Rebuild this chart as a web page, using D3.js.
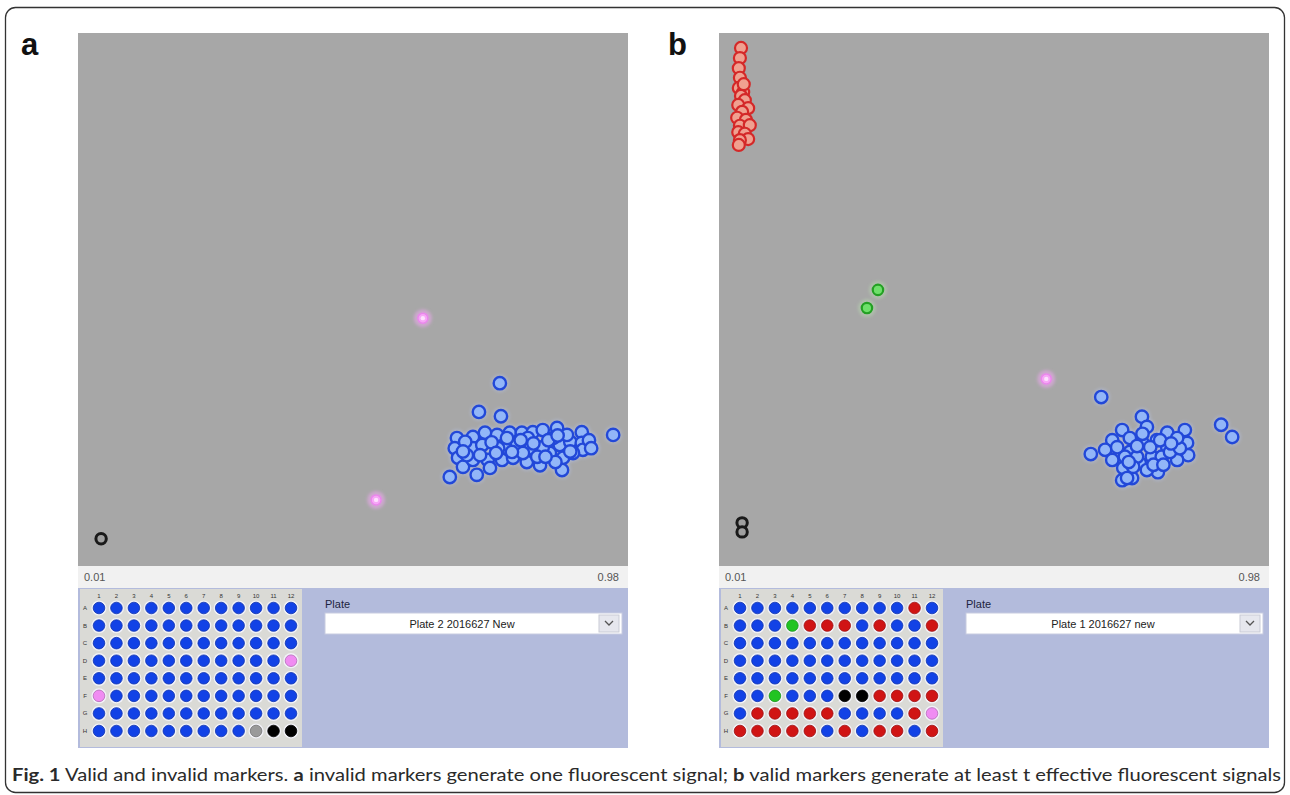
<!DOCTYPE html>
<html>
<head>
<meta charset="utf-8">
<script src="https://cdn.jsdelivr.net/npm/d3@7"></script>
<style>
  body { margin: 0; background: #fff; }
  svg { display: block; }
</style>
</head>
<body>
<div id="fig"></div>
<script>
// ---- data (x / y as fraction of the plot) ----
const panelKeys = ["a", "b"];
const plateNames = ["Plate 2 2016627 New", "Plate 1 2016627 new"];
const axisTicks = [0.01, 0.98];
const plateRows = ["A", "B", "C", "D", "E", "F", "G", "H"];
const plateCols = [1, 2, 3, 4, 5, 6, 7, 8, 9, 10, 11, 12];

// well calls, one string per row: B blue, R red, G green, K black, P pink, N grey
const wellsA = [
  "BBBBBBBBBBBB",
  "BBBBBBBBBBBB",
  "BBBBBBBBBBBB",
  "BBBBBBBBBBBP",
  "BBBBBBBBBBBB",
  "PBBBBBBBBBBB",
  "BBBBBBBBBBBB",
  "BBBBBBBBBNKK"
];
const wellsB = [
  "BBBBBBBBBBRB",
  "BBBGRRRBRBBR",
  "BBBBBBBBBBBB",
  "BBBBBBBBBBBB",
  "BBBBBBBBBBBB",
  "BBGBBBKKRRRR",
  "BRRRRRBBBBRP",
  "RRRRRBRBRRBR"
];

// panel a scatter
const blackA = [[0.042, 0.051]];
const pinkA = [[0.627, 0.465], [0.542, 0.124]];
const blueA = [
  [0.767, 0.343], [0.729, 0.289], [0.769, 0.281], [0.973, 0.246], [0.676, 0.167],
  [0.689, 0.240], [0.685, 0.221], [0.691, 0.203], [0.700, 0.186], [0.725, 0.171],
  [0.718, 0.242], [0.740, 0.250], [0.762, 0.246], [0.785, 0.250], [0.807, 0.250],
  [0.827, 0.251], [0.845, 0.255], [0.871, 0.259], [0.916, 0.251], [0.718, 0.221],
  [0.718, 0.199], [0.745, 0.199], [0.749, 0.184], [0.771, 0.199], [0.791, 0.203],
  [0.816, 0.195], [0.840, 0.189], [0.858, 0.212], [0.876, 0.227], [0.895, 0.233],
  [0.916, 0.231], [0.918, 0.218], [0.900, 0.212], [0.882, 0.203], [0.880, 0.180],
  [0.776, 0.223], [0.798, 0.227], [0.822, 0.221], [0.845, 0.223], [0.809, 0.212],
  [0.835, 0.205], [0.789, 0.214], [0.764, 0.221], [0.735, 0.227], [0.731, 0.208],
  [0.704, 0.233], [0.707, 0.208], [0.864, 0.240], [0.889, 0.246], [0.929, 0.236],
  [0.933, 0.221], [0.818, 0.240], [0.855, 0.236], [0.752, 0.232], [0.868, 0.195],
  [0.805, 0.236], [0.780, 0.240], [0.850, 0.205], [0.895, 0.215], [0.760, 0.212],
  [0.700, 0.215], [0.828, 0.230], [0.872, 0.245]
];

// panel b scatter
const redB = [
  [0.040, 0.972], [0.038, 0.953], [0.036, 0.934], [0.038, 0.916], [0.036, 0.897],
  [0.044, 0.889], [0.040, 0.882], [0.047, 0.874], [0.035, 0.865], [0.053, 0.859],
  [0.042, 0.852], [0.033, 0.841], [0.049, 0.837], [0.038, 0.826], [0.056, 0.827],
  [0.035, 0.814], [0.047, 0.811], [0.053, 0.801], [0.038, 0.799], [0.036, 0.790],
  [0.045, 0.904]
];
const greenB = [[0.289, 0.518], [0.269, 0.484]];
const pinkB = [[0.595, 0.351]];
const blackB = [[0.042, 0.081], [0.042, 0.064]];
const blueB = [
  [0.695, 0.317], [0.676, 0.210], [0.913, 0.265], [0.933, 0.242],
  [0.769, 0.280], [0.778, 0.261], [0.733, 0.255], [0.715, 0.236], [0.702, 0.218],
  [0.715, 0.199], [0.735, 0.184], [0.733, 0.161], [0.751, 0.165], [0.798, 0.176],
  [0.815, 0.250], [0.847, 0.255], [0.851, 0.231], [0.853, 0.208], [0.833, 0.199],
  [0.815, 0.223], [0.796, 0.236], [0.769, 0.233], [0.747, 0.214], [0.765, 0.193],
  [0.787, 0.205], [0.805, 0.205], [0.820, 0.214], [0.784, 0.223], [0.760, 0.205],
  [0.838, 0.221], [0.738, 0.205], [0.778, 0.180], [0.753, 0.186], [0.724, 0.223],
  [0.747, 0.240], [0.833, 0.240], [0.742, 0.165], [0.802, 0.236], [0.790, 0.190],
  [0.822, 0.230], [0.760, 0.225], [0.770, 0.248], [0.745, 0.195], [0.808, 0.190]
];

const scatterA = [
  { pts: blackA, kind: "black" }, { pts: pinkA, kind: "pink" }, { pts: blueA, kind: "blue" }
];
const scatterB = [
  { pts: redB, kind: "red" }, { pts: greenB, kind: "green" }, { pts: pinkB, kind: "pink" },
  { pts: blackB, kind: "black" }, { pts: blueB, kind: "blue" }
];

// ---- layout ----
const W = 1290, H = 795;
const panelLeft = [78, 719];
const plotW = 550, plotTop = 33, plotBottom = 566, stripBottom = 588, lavBottom = 748;

const wellColor = { B: "#1242e6", R: "#d01414", G: "#22c422", K: "#000000", P: "#f08cf2", N: "#9a9a9a" };

const svg = d3.select("#fig").append("svg").attr("width", W).attr("height", H);

const defs = svg.append("defs");
const blur = defs.append("filter").attr("id", "soft").attr("x", "-1").attr("y", "-1").attr("width", "3").attr("height", "3");
blur.append("feGaussianBlur").attr("stdDeviation", 1.8);

// outer frame
svg.append("rect")
  .attr("x", 5.5).attr("y", 7.5).attr("width", 1279).attr("height", 785)
  .attr("rx", 10).attr("fill", "#fff").attr("stroke", "#333").attr("stroke-width", 1.3);

function drawPanel(i, scatter, wells) {
  const left = panelLeft[i];
  const g = svg.append("g");

  const x = d3.scaleLinear().domain([0, 1]).range([left, left + plotW]);
  const y = d3.scaleLinear().domain([0, 1]).range([plotBottom, plotTop]);

  // plot area
  g.append("rect").attr("x", left).attr("y", plotTop)
    .attr("width", plotW).attr("height", plotBottom - plotTop).attr("fill", "#a7a7a7");
  // axis strip
  g.append("rect").attr("x", left).attr("y", plotBottom)
    .attr("width", plotW).attr("height", stripBottom - plotBottom).attr("fill", "#f1f1f1");

  const xTick = d3.scaleLinear().domain(axisTicks).range([left + 6, left + plotW - 9]);
  g.selectAll(".tk").data(axisTicks).join("text")
    .attr("x", d => xTick(d)).attr("y", 581)
    .attr("text-anchor", (d, j) => (j === 0 ? "start" : "end"))
    .attr("font-family", "Liberation Sans, Arial, sans-serif").attr("font-size", 11)
    .attr("fill", "#555").text(d => d.toFixed(2));

  // scatter marks: soft halo first, then the rings
  scatter.forEach(s => {
    const sg = g.append("g");
    if (s.kind === "blue") {
      sg.selectAll(".glow").data(s.pts).join("circle")
        .attr("cx", p => x(p[0])).attr("cy", p => y(p[1])).attr("r", 9)
        .attr("fill", "#b6c2e8").attr("opacity", 0.4).attr("filter", "url(#soft)");
    }
    s.pts.forEach(p => {
      const cx = x(p[0]), cy = y(p[1]);
      if (s.kind === "blue") {
        sg.append("circle").attr("cx", cx).attr("cy", cy).attr("r", 6.2)
          .attr("fill", "#92b6f8").attr("stroke", "#2248d8").attr("stroke-width", 2.4);
      } else if (s.kind === "red") {
        sg.append("circle").attr("cx", cx).attr("cy", cy).attr("r", 6)
          .attr("fill", "#f0a090").attr("stroke", "#d42828").attr("stroke-width", 2.2);
      } else if (s.kind === "green") {
        sg.append("circle").attr("cx", cx).attr("cy", cy).attr("r", 9)
          .attr("fill", "#b8d8b0").attr("opacity", 0.5).attr("filter", "url(#soft)");
        sg.append("circle").attr("cx", cx).attr("cy", cy).attr("r", 5.2)
          .attr("fill", "#6ee06a").attr("stroke", "#23a023").attr("stroke-width", 2.2);
      } else if (s.kind === "pink") {
        sg.append("circle").attr("cx", cx).attr("cy", cy).attr("r", 9)
          .attr("fill", "#e8a8ea").attr("opacity", 0.6).attr("filter", "url(#soft)");
        sg.append("circle").attr("cx", cx).attr("cy", cy).attr("r", 5)
          .attr("fill", "#f6a6f6").attr("stroke", "#ea86ec").attr("stroke-width", 1.5);
        sg.append("circle").attr("cx", cx).attr("cy", cy).attr("r", 2.2)
          .attr("fill", "#fde0fd");
      } else if (s.kind === "black") {
        sg.append("circle").attr("cx", cx).attr("cy", cy).attr("r", 5.2)
          .attr("fill", "#a0a0a0").attr("stroke", "#1a1a1a").attr("stroke-width", 3);
      }
    });
  });

  // plate panel (lavender)
  g.append("rect").attr("x", left).attr("y", stripBottom)
    .attr("width", plotW).attr("height", lavBottom - stripBottom).attr("fill", "#b3bbdc");

  const plateX0 = left + 2, plateX1 = left + 224, plateY0 = 589, plateY1 = 747;
  g.append("rect").attr("x", plateX0).attr("y", plateY0)
    .attr("width", plateX1 - plateX0).attr("height", plateY1 - plateY0).attr("fill", "#dadad6");

  const cx = d3.scalePoint().domain(plateCols).range([left + 21, left + 213]);
  const cy = d3.scalePoint().domain(plateRows).range([608, 731]);

  g.selectAll(".cl").data(plateCols).join("text")
    .attr("x", d => cx(d)).attr("y", 598).attr("text-anchor", "middle")
    .attr("font-family", "Liberation Sans, Arial, sans-serif").attr("font-size", 6)
    .attr("fill", "#333").text(d => d);
  g.selectAll(".rl").data(plateRows).join("text")
    .attr("x", left + 7).attr("y", d => cy(d) + 2).attr("text-anchor", "middle")
    .attr("font-family", "Liberation Sans, Arial, sans-serif").attr("font-size", 6)
    .attr("fill", "#333").text(d => d);

  const wellData = [];
  wells.forEach((row, r) => {
    row.split("").forEach((c, k) => wellData.push({ row: plateRows[r], col: plateCols[k], c }));
  });
  g.selectAll(".halo").data(wellData).join("circle")
    .attr("cx", d => cx(d.col)).attr("cy", d => cy(d.row)).attr("r", 7.6)
    .attr("fill", "#f2f2f8");
  g.selectAll(".well").data(wellData).join("circle")
    .attr("cx", d => cx(d.col)).attr("cy", d => cy(d.row)).attr("r", 5.8)
    .attr("fill", d => wellColor[d.c])
    .attr("stroke", d => d3.color(wellColor[d.c]).darker(0.8))
    .attr("stroke-width", 0.8);

  // plate selector
  const bx = left + 247;
  g.append("text").attr("x", bx).attr("y", 608)
    .attr("font-family", "Liberation Sans, Arial, sans-serif").attr("font-size", 11)
    .attr("fill", "#1c2440").text("Plate");
  g.append("rect").attr("x", bx).attr("y", 613).attr("width", 297).attr("height", 21)
    .attr("fill", "#fff").attr("stroke", "#c8cce0");
  g.append("rect").attr("x", bx + 274).attr("y", 615).attr("width", 20).attr("height", 17)
    .attr("fill", "#e6e7ee").attr("stroke", "#c9cbd6");
  g.append("path")
    .attr("d", `M${bx + 280},${621} L${bx + 284},${625} L${bx + 288},${621}`)
    .attr("fill", "none").attr("stroke", "#555").attr("stroke-width", 1.3);
  g.append("text").attr("x", bx + 137).attr("y", 628).attr("text-anchor", "middle")
    .attr("font-family", "Liberation Sans, Arial, sans-serif").attr("font-size", 11)
    .attr("fill", "#222").text(plateNames[i]);

  // panel letter
  svg.append("text").attr("x", i === 0 ? 21 : 668).attr("y", 55)
    .attr("font-family", "Liberation Sans, Arial, sans-serif").attr("font-weight", "bold")
    .attr("font-size", 31).attr("fill", "#111").text(panelKeys[i]);
}

drawPanel(0, scatterA, wellsA);
drawPanel(1, scatterB, wellsB);

// caption
const cap = svg.append("text").attr("x", 12).attr("y", 781)
  .attr("font-family", "Lato, Noto Sans, sans-serif").attr("font-size", 16.5).attr("fill", "#2a2a2a");
cap.append("tspan").attr("font-weight", "bold").text("Fig. 1");
cap.append("tspan").text(" Valid and invalid markers. ");
cap.append("tspan").attr("font-weight", "bold").text("a");
cap.append("tspan").text(" invalid markers generate one fluorescent signal; ");
cap.append("tspan").attr("font-weight", "bold").text("b");
cap.append("tspan").text(" valid markers generate at least t effective fluorescent signals");
cap.attr("textLength", 1269).attr("lengthAdjust", "spacingAndGlyphs");
</script>
</body>
</html>
